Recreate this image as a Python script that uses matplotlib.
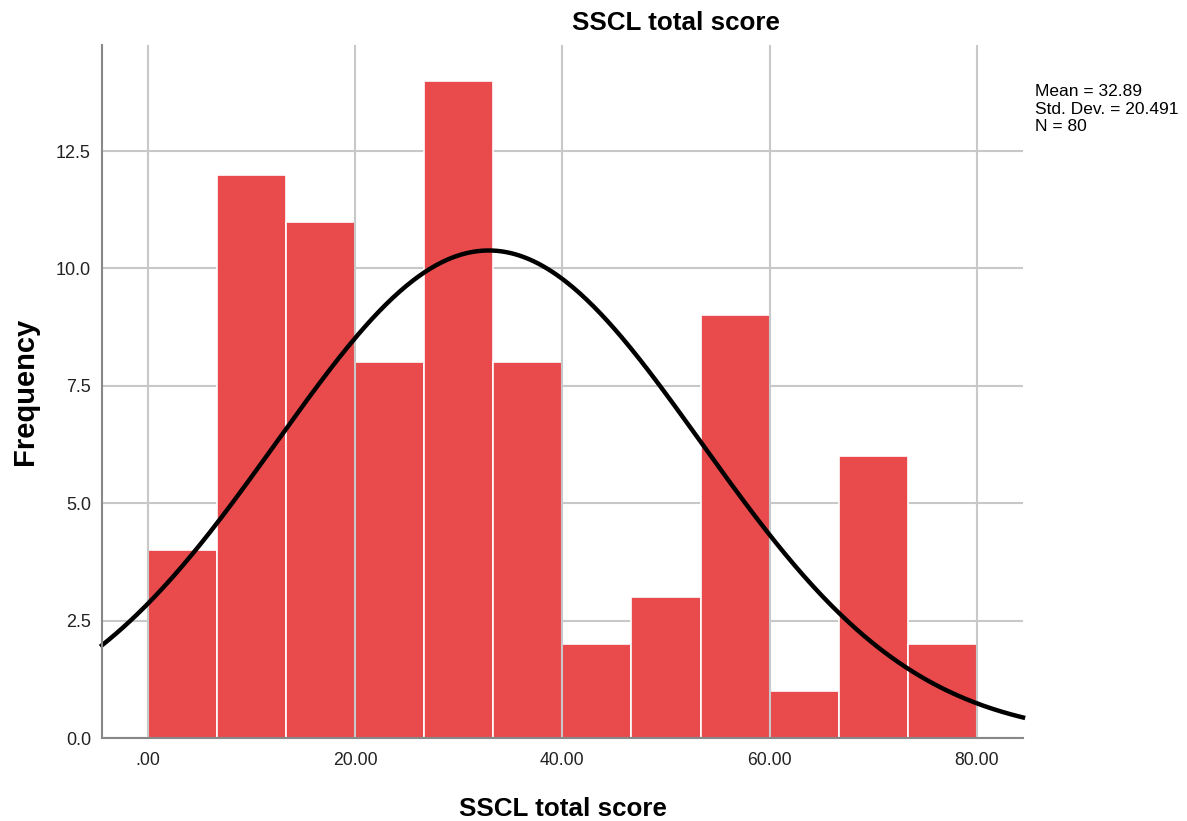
import numpy as np
import matplotlib as mpl
mpl.use("Agg")
import matplotlib.pyplot as plt

# ---- data ----
bin_edges = [0, 6.667, 13.333, 20, 26.667, 33.333, 40, 46.667, 53.333, 60, 66.667, 73.333, 80]
counts = [4, 12, 11, 8, 14, 8, 2, 3, 9, 1, 6, 2]
mean, sd, n = 32.89, 20.491, 80
xticks = [0, 20, 40, 60, 80]
xticklabels = [".00", "20.00", "40.00", "60.00", "80.00"]
yticks = [0, 2.5, 5, 7.5, 10, 12.5]
yticklabels = ["0.0", "2.5", "5.0", "7.5", "10.0", "12.5"]

plt.rcParams["font.family"] = ["Liberation Sans", "DejaVu Sans"]
BAR = "#E94B4D"
GRID = "#C8C8C8"

fig = plt.figure(figsize=(11.87, 8.21), dpi=100)
ax = fig.add_axes([102/1187, 1-738/821, (1023-102)/1187, (738-45)/821])

left = np.array(bin_edges[:-1]); width = np.diff(bin_edges)
ax.bar(left, counts, width=width, align="edge", color=BAR,
       edgecolor="white", linewidth=1.2, zorder=2)

xmin, xmax = -4.44, 84.46
ax.set_xlim(xmin, xmax); ax.set_ylim(0, 14.76)
xs = np.linspace(xmin, xmax, 400)
bw = (bin_edges[-1]-bin_edges[0])/len(counts)
ys = n*bw*np.exp(-0.5*((xs-mean)/sd)**2)/(sd*np.sqrt(2*np.pi))
ax.plot(xs, ys, color="black", lw=3.2, zorder=4, clip_on=False)

ax.set_xticks(xticks); ax.set_xticklabels(xticklabels)
ax.set_yticks(yticks); ax.set_yticklabels(yticklabels)
ax.tick_params(axis="x", length=0, labelsize=12.7, colors="#222222", pad=10)
ax.tick_params(axis="y", length=0, labelsize=13, colors="#222222", pad=8)
# horizontal grid behind bars, vertical grid sits in the bar gaps
ax.grid(True, axis="y", color=GRID, lw=1.5, zorder=1)
for xv in xticks:
    ax.axvline(xv, color=GRID, lw=1.5, zorder=3)
for s in ["top", "right"]: ax.spines[s].set_visible(False)
for s in ["left", "bottom"]:
    ax.spines[s].set_color("#888888"); ax.spines[s].set_linewidth(1.5)
    ax.spines[s].set_zorder(5)

ax.set_xlabel("SSCL total score", fontsize=18.7, fontweight="bold", labelpad=20)
ax.set_ylabel("Frequency", fontsize=21, fontweight="bold", labelpad=12)
fig.text(676/1187, 1-23/821, "SSCL total score", ha="center", va="center",
         fontsize=18.7, fontweight="bold")
fig.text(1035/1187, 1-84/821, f"Mean = {mean}\nStd. Dev. = {sd}\nN = {n}",
         ha="left", va="top", fontsize=12.5, linespacing=1.22)

fig.savefig("out.png", dpi=100, facecolor="white")
